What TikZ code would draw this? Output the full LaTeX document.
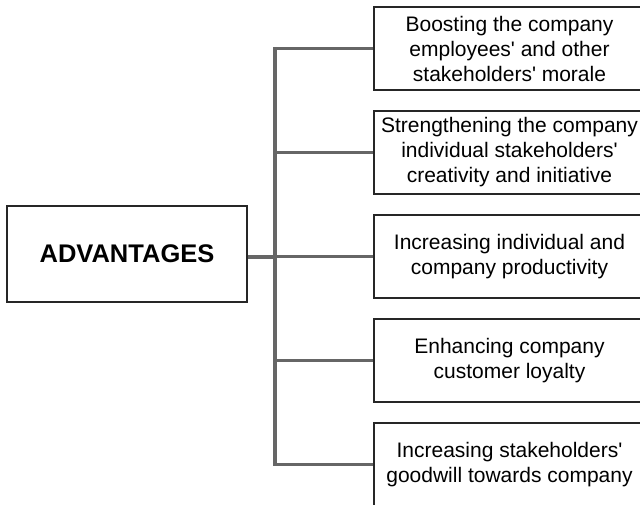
\documentclass[tikz,border=0pt]{standalone}
\usepackage{fontspec}
\setmainfont{Liberation Sans}
\newcommand{\ap}{\textquotesingle}
\begin{document}
\begin{tikzpicture}[x=1pt,y=-1pt,
  item/.style={draw=black!85,line width=1.4pt,minimum width=271pt,minimum height=83pt,
    inner sep=0pt,align=center,font=\fontsize{21}{25}\selectfont},
  main/.style={draw=black!85,line width=1.4pt,minimum width=240pt,minimum height=96pt,
    inner sep=0pt,font=\fontsize{25.5}{30}\selectfont\bfseries},
  conn/.style={draw=black!60,line width=3.2pt},
  connthick/.style={draw=black!60,line width=4pt}]
\useasboundingbox (0,0) rectangle (640,504);
\node[main] (adv) at (127,254) {ADVANTAGES};
\node[item] (b1) at (509.5,48.5) {Boosting the company\\employees\ap{} and other\\stakeholders\ap{} morale};
\node[item] (b2) at (509.5,152.5) {Strengthening the company\\individual stakeholders\ap\\creativity and initiative};
\node[item] (b3) at (509.5,256.5) {Increasing individual and\\company productivity};
\node[item] (b4) at (509.5,360.5) {Enhancing company\\customer loyalty};
\node[item] (b5) at (509.5,464.5) {Increasing stakeholders\ap\\goodwill towards company};
\coordinate (t1) at (275,48.5);
\coordinate (t2) at (275,152.5);
\coordinate (t3) at (275,256.5);
\coordinate (t4) at (275,360.5);
\coordinate (t5) at (275,464.5);
\draw[conn] ([yshift=1.6pt]t1) -- ([yshift=-1.6pt]t5);
\draw[conn] ([xshift=-1.6pt]t1) -- (b1.west);
\draw[conn] (t2) -- (b2.west);
\draw[conn] (t3) -- (b3.west);
\draw[conn] (t4) -- (b4.west);
\draw[conn] ([xshift=-1.6pt]t5) -- (b5.west);
\draw[connthick] (adv.east |- t3) -- (t3);
\end{tikzpicture}
\end{document}
